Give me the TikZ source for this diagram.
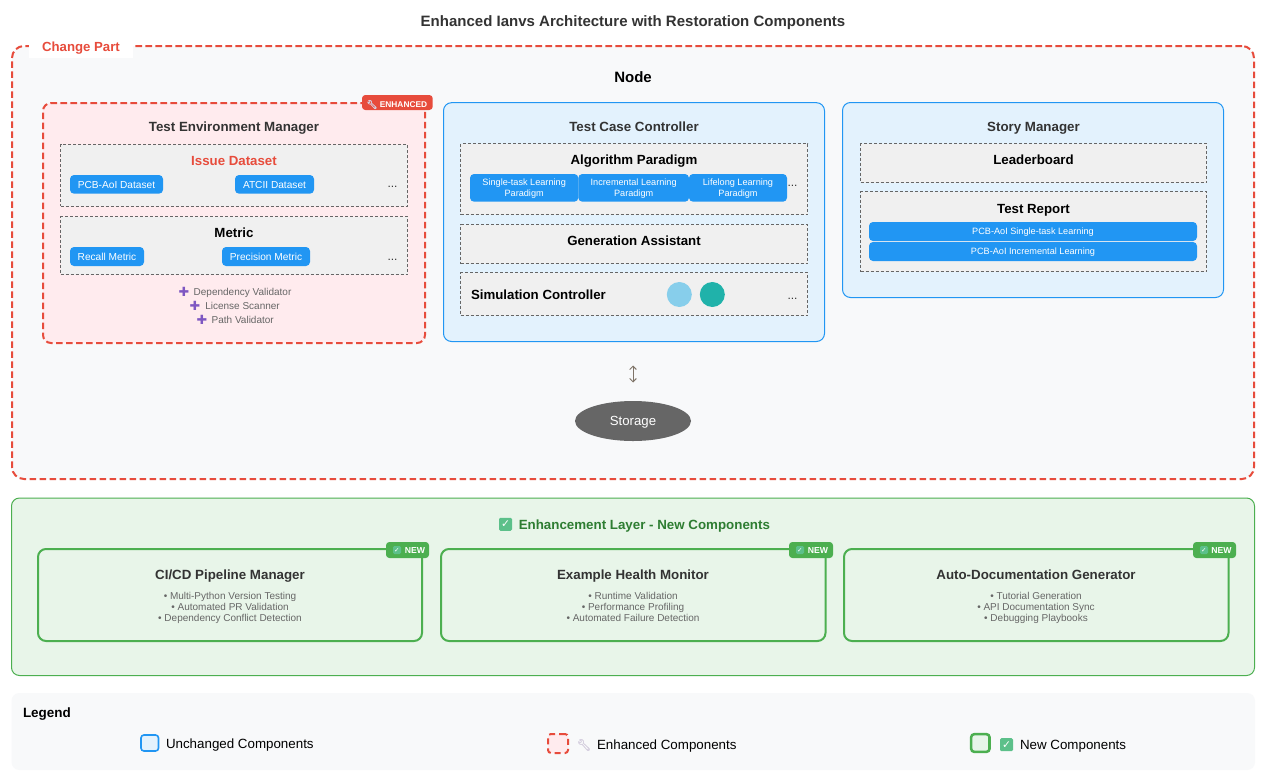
\documentclass[tikz,border=0pt]{standalone}
\usepackage{fontspec}
\setmainfont{Liberation Sans}
\newfontfamily\emo[FakeBold=2.5]{Noto Emoji}
\newfontfamily\djv{DejaVu Sans}
\usetikzlibrary{arrows.meta,shapes.geometric}
\definecolor{cred}{HTML}{E74C3C}
\definecolor{cblue}{HTML}{2196F3}
\definecolor{cgreen}{HTML}{4CAF50}
\definecolor{dgreen}{HTML}{2E7D32}
\definecolor{fblue}{HTML}{E3F2FD}
\definecolor{fred}{HTML}{FFEBEE}
\definecolor{fgreen}{HTML}{E8F5E9}
\definecolor{fgray}{HTML}{F8F9FA}
\definecolor{sub}{HTML}{F0F0F0}
\definecolor{ink}{HTML}{333333}
\definecolor{mut}{HTML}{666666}
\definecolor{wrench}{HTML}{D6D0E0}
\definecolor{plus}{HTML}{7E57C2}
\definecolor{chk}{HTML}{5CC08A}
\definecolor{arrowc}{HTML}{7F7468}
\definecolor{skyc}{HTML}{87CEEB}
\definecolor{tealc}{HTML}{20B2AA}
\newcommand\bx[7]{\node (#1) [#2,minimum width={(#5-#3)*0.75},minimum height={(#6-#4)*0.75}] at ({(#3+#5)/2},{(#4+#6)/2}) {#7};}
\tikzset{
  fpx/.code={\pgfmathsetmacro\ptsz{#1*0.75}\pgfmathsetmacro\ptld{#1*0.9}\pgfmathsetmacro\ptcap{#1*0.54}%
    \tikzset{font=\fontsize{\ptsz}{\ptld}\selectfont,text height=\ptcap pt,text depth=0pt}},
  tx/.style={inner sep=0pt,outer sep=0pt},
  box/.style={inner sep=0pt,outer sep=0pt,rectangle},
  outerdash/.style={box,draw=cred,line width=1.5pt,dash pattern=on 5pt off 2.5pt,fill=fgray,rounded corners=9pt},
  reddash/.style={box,draw=cred,line width=1.5pt,dash pattern=on 5pt off 2.5pt,fill=fred,rounded corners=6pt},
  bluebox/.style={box,draw=cblue,line width=.75pt,fill=fblue,rounded corners=6pt},
  greenouter/.style={box,draw=cgreen,line width=.75pt,fill=fgreen,rounded corners=6pt},
  greencard/.style={box,draw=cgreen,line width=1.5pt,fill=fgreen,rounded corners=6pt},
  subbox/.style={box,draw=mut,line width=.75pt,dash pattern=on 2.25pt off 1.5pt,fill=sub},
  chip/.style={box,fill=cblue,rounded corners=3pt,text=white,fpx=10.15},
  chiptwo/.style={box,fill=cblue,rounded corners=3pt,text=white,fpx=9.15,align=center,text height=,text depth=0pt},
  chipwide/.style={box,fill=cblue,rounded corners=3pt,text=white,fpx=9.15},
  badgered/.style={box,fill=cred,rounded corners=2.5pt},
  badgegreen/.style={box,fill=cgreen,rounded corners=2.5pt},
  mainhead/.style={tx,text=ink,fpx=13,font=\fontsize{10}{11}\selectfont\bfseries},
  subhead/.style={tx,text=black,fpx=13.5,font=\fontsize{9.95}{12}\selectfont\bfseries},
  smalltx/.style={tx,text=mut,fpx=10},
  dots/.style={tx,text=ink,fpx=12},
  checkmark/.code={\pgfmathsetmacro\cksz{#1*0.62}\pgfmathsetmacro\cksd{#1*0.75}%
    \tikzset{box,fill=chk,rounded corners=1pt,text=white,minimum size=\cksd pt,font=\djv\fontsize{\cksz}{\cksz}\selectfont}},
  wrenchicon/.style={tx,text=wrench,font=\emo\fontsize{#1}{#1}\selectfont},
  plusicon/.style={tx,text=plus,font=\djv\fontsize{9.5}{10}\selectfont},
  legendtx/.style={tx,text=black,fpx=13.35,anchor=west},
}
\begin{document}
\begin{tikzpicture}[x=0.75pt,y=-0.75pt]
\useasboundingbox (0,0) rectangle (1274,782);
\fill[white] (0,0) rectangle (1274,782);
% title
\node (title) [tx,text=ink,fpx=15,font=\fontsize{11.26}{13}\selectfont\bfseries] at (633,21) {Enhanced Ianvs Architecture with Restoration Components};
% change part
\bx{change}{outerdash}{12}{46}{1254}{479}{}
\fill[white] (29,40) rectangle (133,57.7);
\node (changelbl) [tx,text=cred,fpx=12.5,font=\fontsize{9.9}{11}\selectfont\bfseries] at (81,46.5) {Change Part};
\node (nodetitle) [tx,text=black,fpx=14,font=\fontsize{11.25}{13}\selectfont\bfseries] at (633,77) {Node};
% Test Environment Manager
\bx{tem}{reddash}{43}{103}{425}{343}{}
\bx{badge}{badgered}{362}{95}{432.7}{110}{}
\node (badgew) [wrenchicon=6.5] at (372,104.5) {\char"1F527};
\node (badget) [tx,text=white,fpx=8.7,font=\fontsize{6.25}{8}\selectfont\bfseries] at (403.5,104) {ENHANCED};
\node (temt) [mainhead] at (234,127) {Test Environment Manager};
\bx{issue}{subbox}{60.5}{144.7}{407.5}{206.3}{}
\node (issuet) [subhead,text=cred] at (234,160.5) {Issue Dataset};
\bx{pcbd}{chip}{70}{175}{163}{193.7}{PCB-AoI Dataset}
\bx{atcii}{chip}{235}{175}{314}{193.7}{ATCII Dataset}
\node (d1) [dots] at (392.5,183.5) {...};
\bx{metric}{subbox}{60.5}{216.7}{407.5}{274.7}{}
\node (metrict) [subhead] at (234,233) {Metric};
\bx{recall}{chip}{70}{247}{144}{266}{Recall Metric}
\bx{prec}{chip}{222}{247}{310}{266}{Precision Metric}
\node (d2) [dots] at (392.5,256) {...};
\node (p1) [plusicon] at (184,291.5) {✚};
\node (p1t) [smalltx,anchor=west] at (193.7,291.7) {Dependency Validator};
\node (p2) [plusicon] at (195,305.5) {✚};
\node (p2t) [smalltx,anchor=west] at (205.3,305.7) {License Scanner};
\node (p3) [plusicon] at (202,319.5) {✚};
\node (p3t) [smalltx,anchor=west] at (211.7,319.7) {Path Validator};
% Test Case Controller
\bx{tcc}{bluebox}{443.5}{102.7}{824.5}{341.5}{}
\node (tcct) [mainhead] at (634,126.5) {Test Case Controller};
\bx{algo}{subbox}{460.5}{143.5}{807.5}{214.5}{}
\node (algot) [subhead] at (634,160) {Algorithm Paradigm};
\bx{a1}{chiptwo}{470}{174}{578.3}{201.7}{Single-task Learning\\Paradigm}
\bx{a2}{chiptwo}{578.3}{174}{689}{201.7}{Incremental Learning\\Paradigm}
\bx{a3}{chiptwo}{689}{174}{787}{201.7}{Lifelong Learning\\Paradigm}
\node (d3) [dots] at (792.5,182.5) {...};
\bx{gen}{subbox}{460.5}{224.5}{807.5}{263.5}{}
\node (gent) [subhead] at (634,240.5) {Generation Assistant};
\bx{sim}{subbox}{460.5}{272.5}{807.5}{315.5}{}
\node (simt) [subhead,anchor=west] at (471,294.5) {Simulation Controller};
\node (c1) [circle,fill=skyc,minimum size=18.75pt,inner sep=0pt] at (679.3,294.5) {};
\node (c2) [circle,fill=tealc,minimum size=18.75pt,inner sep=0pt] at (712.3,294.5) {};
\node (d4) [dots] at (792.5,295.5) {...};
% Story Manager
\bx{story}{bluebox}{842.5}{102.5}{1223.5}{297.5}{}
\node (storyt) [mainhead] at (1033.5,126.5) {Story Manager};
\bx{lead}{subbox}{860.5}{143.5}{1206.5}{182.5}{}
\node (leadt) [subhead] at (1033.5,159.5) {Leaderboard};
\bx{report}{subbox}{860.5}{191.5}{1206.5}{271.5}{}
\node (reportt) [subhead] at (1033.5,208.5) {Test Report};
\bx{r1}{chipwide}{869}{222}{1197}{241}{PCB-AoI Single-task Learning}
\bx{r2}{chipwide}{869}{242}{1197}{261}{PCB-AoI Incremental Learning}
% Storage
\node (storage) [ellipse,fill=mut,text=white,minimum width=87pt,minimum height=30pt,inner sep=0pt,fpx=13.2] at (633,421) {Storage};
\coordinate (arrtop) at (633,365.5);
\coordinate (arrbot) at (633,382.5);
\draw[{Straight Barb[length=2.5pt,width=5pt]}-{Straight Barb[length=2.5pt,width=5pt]},draw=arrowc,line width=.75pt] (arrtop) -- (arrbot);
% Enhancement layer
\bx{enh}{greenouter}{11.5}{498}{1254.5}{675.5}{}
\node (enhc) [checkmark=13] at (505.5,524.3) {✓};
\node (enht) [tx,text=dgreen,fpx=13,font=\fontsize{10}{11}\selectfont\bfseries,anchor=west] at (518.8,524.7) {Enhancement Layer - New Components};
\bx{card1}{greencard}{38}{549}{422}{641}{}
\bx{card2}{greencard}{441}{549}{825.5}{641}{}
\bx{card3}{greencard}{844}{549}{1228.5}{641}{}
\bx{nb1}{badgegreen}{386}{542}{429}{558}{}
\bx{nb2}{badgegreen}{789}{542}{833}{558}{}
\bx{nb3}{badgegreen}{1193}{542}{1236}{558}{}
\node (nc1) [checkmark=8] at (397,550) {✓};
\node (nc2) [checkmark=8] at (800,550) {✓};
\node (nc3) [checkmark=8] at (1204,550) {✓};
\node (nt1) [tx,text=white,fpx=8.7,font=\fontsize{6.5}{8}\selectfont\bfseries] at (415,550) {NEW};
\node (nt2) [tx,text=white,fpx=8.7,font=\fontsize{6.5}{8}\selectfont\bfseries] at (818,550) {NEW};
\node (nt3) [tx,text=white,fpx=8.7,font=\fontsize{6.5}{8}\selectfont\bfseries] at (1221.5,550) {NEW};
\node (ct1) [mainhead] at (230,574.5) {CI/CD Pipeline Manager};
\node (ct2) [mainhead] at (633,574.5) {Example Health Monitor};
\node (ct3) [mainhead] at (1036,574.5) {Auto-Documentation Generator};
\node (l11) [smalltx] at (230,595.7) {• Multi-Python Version Testing};
\node (l12) [smalltx] at (230,606.7) {• Automated PR Validation};
\node (l13) [smalltx] at (230,617.7) {• Dependency Conflict Detection};
\node (l21) [smalltx] at (633,595.7) {• Runtime Validation};
\node (l22) [smalltx] at (633,606.7) {• Performance Profiling};
\node (l23) [smalltx] at (633,617.7) {• Automated Failure Detection};
\node (l31) [smalltx] at (1036,595.7) {• Tutorial Generation};
\node (l32) [smalltx] at (1036,606.7) {• API Documentation Sync};
\node (l33) [smalltx] at (1036,617.7) {• Debugging Playbooks};
% Legend
\bx{legend}{box,fill=fgray,rounded corners=6pt}{11.5}{693}{1255}{770}{}
\node (legt) [tx,text=black,fpx=13,font=\fontsize{10.1}{11}\selectfont\bfseries,anchor=west] at (23,712.5) {Legend};
\bx{s1}{box,draw=cblue,line width=1.2pt,fill=fblue,rounded corners=2.2pt}{141}{735}{158.5}{751}{}
\node (s1t) [legendtx] at (166,743.5) {Unchanged Components};
\bx{s2}{box,draw=cred,line width=1.5pt,dash pattern=on 4.5pt off 3pt,fill=fred,rounded corners=2.2pt}{548}{734}{568}{753}{}
\node (s2w) [wrenchicon=8.5] at (584,745) {\char"1F527};
\node (s2t) [legendtx] at (597,744.5) {Enhanced Components};
\bx{s3}{box,draw=cgreen,line width=1.9pt,fill=fgreen,rounded corners=2.2pt}{971.2}{734.2}{989.5}{751.8}{}
\node (s3c) [checkmark=13] at (1006.5,744.7) {✓};
\node (s3t) [legendtx] at (1020,744.5) {New Components};
\end{tikzpicture}
\end{document}
